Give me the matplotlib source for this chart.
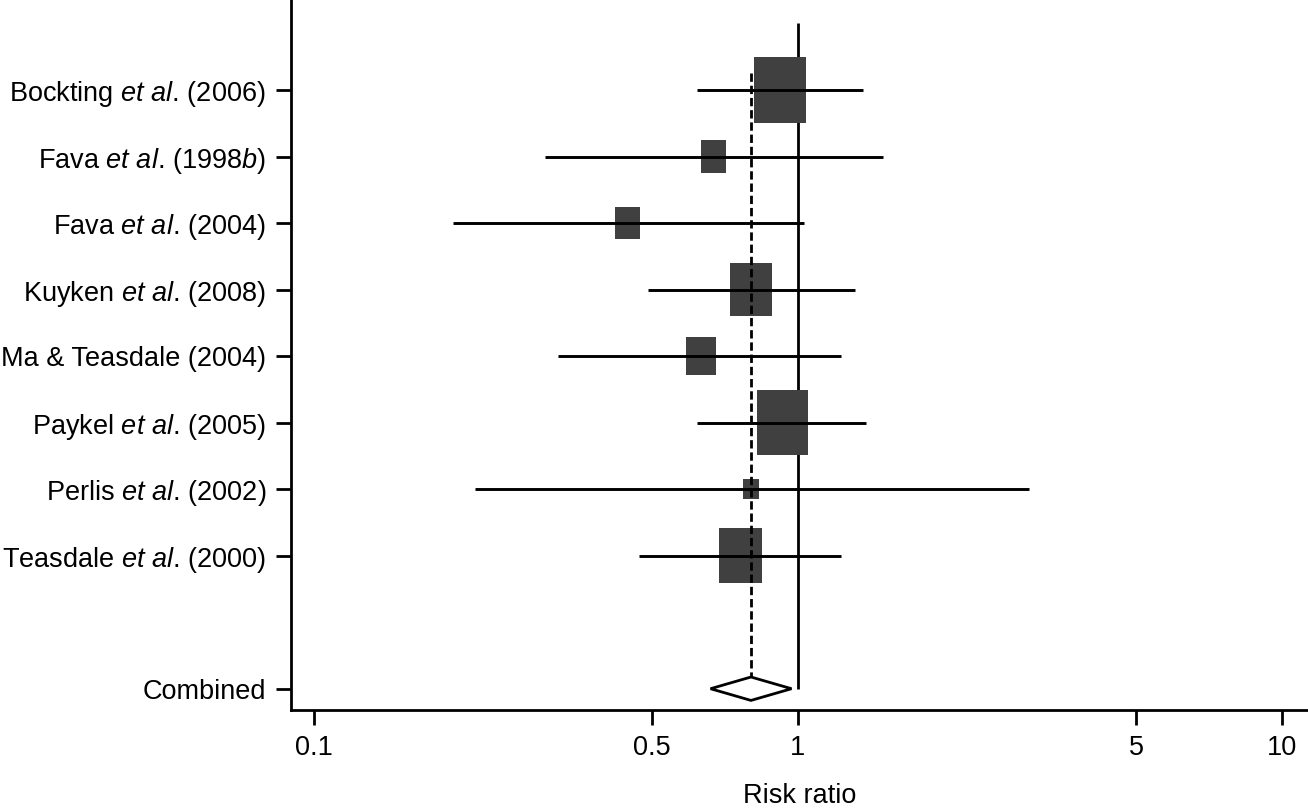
import numpy as np
import matplotlib
matplotlib.use('Agg')
import matplotlib.pyplot as plt

plt.rcParams['font.family'] = ['Liberation Sans', 'DejaVu Sans']
plt.rcParams['mathtext.fontset'] = 'custom'
plt.rcParams['mathtext.rm'] = 'Liberation Sans'
plt.rcParams['mathtext.it'] = 'Liberation Sans:italic'

# study data
studies = [r'Bockting $\mathit{et\ al}$. (2006)',
           r'Fava $\mathit{et\ al}$. (1998$\mathit{b}$)',
           r'Fava $\mathit{et\ al}$. (2004)',
           r'Kuyken $\mathit{et\ al}$. (2008)',
           'Ma & Teasdale (2004)',
           r'Paykel $\mathit{et\ al}$. (2005)',
           r'Perlis $\mathit{et\ al}$. (2002)',
           r'Teasdale $\mathit{et\ al}$. (2000)']
rr = [0.92, 0.67, 0.445, 0.80, 0.63, 0.93, 0.80, 0.76]
lo = [0.62, 0.30, 0.194, 0.49, 0.32, 0.62, 0.215, 0.47]
hi = [1.36, 1.50, 1.03, 1.31, 1.23, 1.38, 3.00, 1.23]
weight = [24.1, 5.6, 5.4, 15.1, 7.9, 23.3, 2.2, 16.4]

comb_rr, comb_lo, comb_hi = 0.80, 0.66, 0.97

xticks = [0.1, 0.5, 1, 5, 10]
xticklabels = ['0.1', '0.5', '1', '5', '10']

ypos = np.arange(1, len(studies) + 1)
y_comb = len(studies) + 2

fig = plt.figure(figsize=(13.08, 8.09), dpi=100)
ax = fig.add_axes([291/1308, 99/809, 1017/1308, 710/809])
ax.set_xscale('log')

# null line
ax.vlines(1, 0, y_comb, color='black', lw=2, zorder=1)

# boxes, side ~ sqrt(weight)
s = np.sqrt(weight)
half = 0.0219 * s / 2
left = np.array(rr) * 10**(-half)
right = np.array(rr) * 10**half
ax.barh(ypos, right - left, left=left, height=0.2046 * s,
        color='#404040', zorder=2)

# confidence intervals
ax.hlines(ypos, lo, hi, color='black', lw=2.1, zorder=3)

# combined diamond
dh = 0.176
ax.fill([comb_lo, comb_rr, comb_hi, comb_rr, comb_lo],
        [y_comb, y_comb - dh, y_comb, y_comb + dh, y_comb],
        facecolor='white', edgecolor='black', lw=2, zorder=3)
ax.vlines(comb_rr, 0.74, y_comb - dh, color='black', lw=2,
          linestyles=(0, (3, 1.4)), zorder=3)

ax.set_xlim(0.0897, 11.32)
ax.set_ylim(10.32, -0.353)

ax.set_yticks(list(ypos) + [y_comb])
ax.set_yticklabels(studies + ['Combined'])
ax.set_xticks(xticks)
ax.set_xticklabels(xticklabels)
ax.xaxis.set_minor_locator(matplotlib.ticker.NullLocator())
ax.tick_params(axis='both', length=11, width=2, labelsize=19.5, pad=7)
ax.set_xlabel('Risk ratio', fontsize=19.5, labelpad=16)

for sp in ['top', 'right']:
    ax.spines[sp].set_visible(False)
for sp in ['left', 'bottom']:
    ax.spines[sp].set_linewidth(2)

fig.savefig('out.png', dpi=100)
